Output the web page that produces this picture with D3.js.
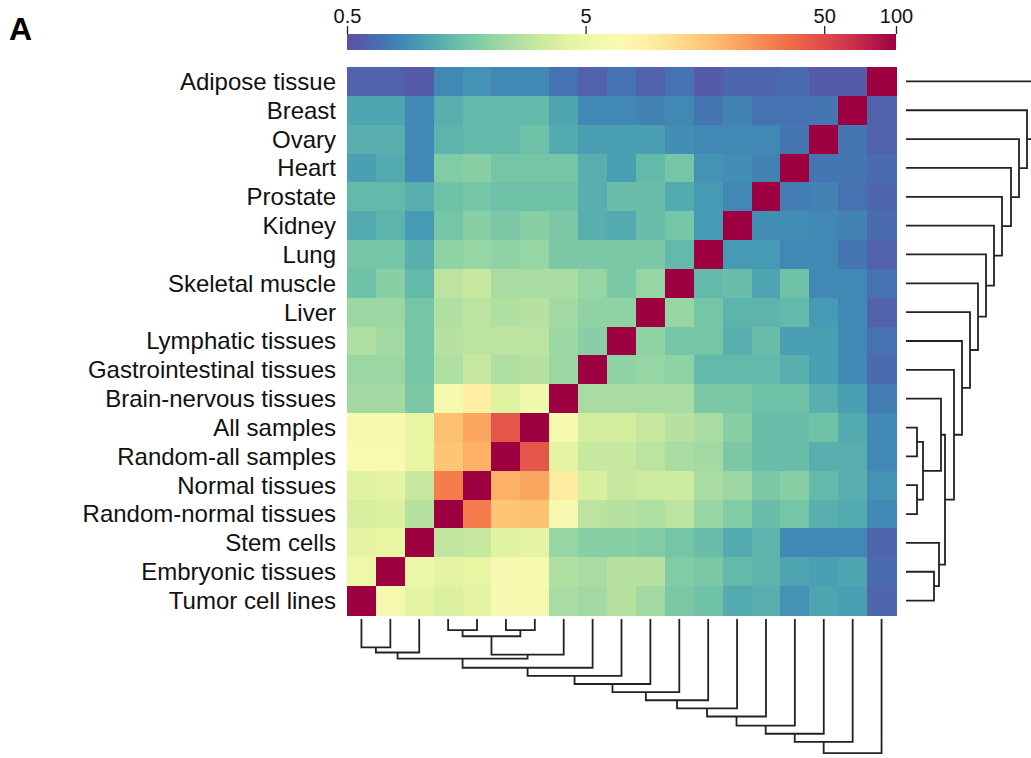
<!DOCTYPE html>
<html>
<head>
<meta charset="utf-8">
<script src="https://cdn.jsdelivr.net/npm/d3@7"></script>
<style>
  body { margin: 0; background: #fff; }
  svg { display: block; font-family: "Liberation Sans", Arial, Helvetica, sans-serif; }
</style>
</head>
<body>
<div id="chart"></div>
<script>
// row order, top to bottom (columns are the same tissues in reverse order)
const rowLabels = [
  "Adipose tissue", "Breast", "Ovary", "Heart", "Prostate", "Kidney", "Lung",
  "Skeletal muscle", "Liver", "Lymphatic tissues", "Gastrointestinal tissues",
  "Brain-nervous tissues", "All samples", "Random-all samples", "Normal tissues",
  "Random-normal tissues", "Stem cells", "Embryonic tissues", "Tumor cell lines"
];

// values[row][col], col 0 = Tumor cell lines ... col 18 = Adipose tissue
const values = [
  [0.59, 0.59, 0.56, 0.85, 0.94, 0.85, 0.85, 0.69, 0.59, 0.69, 0.59, 0.69, 0.56, 0.62, 0.62, 0.65, 0.56, 0.56, 100],
  [1.1, 1.1, 0.85, 1.23, 1.37, 1.37, 1.37, 1.1, 0.85, 0.85, 0.81, 0.85, 0.72, 0.81, 0.69, 0.69, 0.72, 100, 0.59],
  [1.23, 1.23, 0.85, 1.3, 1.37, 1.37, 1.52, 1.17, 1.05, 1.05, 1.05, 0.9, 0.85, 0.85, 0.85, 0.72, 100, 0.72, 0.59],
  [1.05, 1.17, 0.85, 1.78, 1.88, 1.6, 1.6, 1.6, 1.23, 1.05, 1.37, 1.6, 0.94, 0.9, 0.81, 100, 0.72, 0.72, 0.65],
  [1.37, 1.37, 1.23, 1.52, 1.6, 1.52, 1.52, 1.52, 1.23, 1.44, 1.44, 1.17, 1.0, 0.85, 100, 0.76, 0.81, 0.69, 0.62],
  [1.17, 1.3, 1.0, 1.6, 1.88, 1.69, 1.88, 1.69, 1.23, 1.17, 1.44, 1.6, 1.0, 100, 0.9, 0.9, 0.85, 0.81, 0.65],
  [1.6, 1.6, 1.23, 1.98, 2.09, 1.98, 2.09, 1.69, 1.69, 1.69, 1.69, 1.37, 100, 1.0, 1.0, 0.85, 0.85, 0.72, 0.59],
  [1.52, 1.88, 1.37, 2.87, 3.19, 2.45, 2.45, 2.45, 2.09, 1.69, 2.09, 100, 1.37, 1.44, 1.1, 1.52, 0.85, 0.85, 0.69],
  [2.2, 2.2, 1.6, 2.58, 2.87, 2.58, 2.72, 2.32, 1.98, 1.98, 100, 2.09, 1.6, 1.3, 1.3, 1.37, 1.0, 0.85, 0.59],
  [2.58, 2.32, 1.6, 2.72, 2.87, 2.87, 2.87, 2.2, 1.88, 100, 1.98, 1.6, 1.6, 1.23, 1.44, 1.05, 1.05, 0.85, 0.69],
  [2.2, 2.2, 1.6, 2.58, 3.19, 2.58, 2.72, 2.2, 100, 1.98, 2.09, 1.98, 1.37, 1.37, 1.37, 1.23, 1.05, 0.85, 0.65],
  [2.32, 2.32, 1.69, 5.7, 9.2, 4.16, 5.4, 100, 2.45, 2.45, 2.45, 2.45, 1.69, 1.69, 1.52, 1.52, 1.23, 1.05, 0.76],
  [6.0, 6.0, 4.63, 16.5, 21.5, 45, 100, 5.7, 3.55, 3.55, 3.19, 2.72, 2.45, 1.88, 1.44, 1.44, 1.52, 1.17, 0.85],
  [6.7, 6.7, 4.63, 15.7, 19.3, 100, 45, 4.39, 3.19, 3.19, 2.87, 2.45, 2.32, 1.69, 1.44, 1.44, 1.23, 1.23, 0.85],
  [4.16, 4.39, 3.19, 31, 100, 19.3, 21.5, 9.7, 3.74, 3.19, 3.37, 3.37, 2.45, 2.2, 1.69, 1.88, 1.37, 1.23, 0.94],
  [3.74, 3.95, 2.72, 100, 31, 15.7, 16.5, 6.4, 2.87, 2.72, 2.58, 2.87, 2.09, 1.78, 1.44, 1.6, 1.23, 1.17, 0.85],
  [4.39, 4.63, 100, 3.03, 3.19, 4.16, 4.39, 2.09, 1.88, 1.88, 1.78, 1.6, 1.44, 1.17, 1.3, 0.85, 0.85, 0.85, 0.62],
  [5.1, 100, 4.88, 4.39, 4.63, 6.4, 6.0, 2.58, 2.45, 2.72, 2.72, 1.78, 1.69, 1.37, 1.3, 1.1, 1.05, 1.1, 0.65],
  [100, 5.7, 4.39, 3.95, 4.39, 6.4, 5.7, 2.45, 2.32, 2.72, 2.32, 1.69, 1.52, 1.17, 1.23, 0.94, 1.1, 1.05, 0.62]
];

const colorTicks = [0.5, 5, 50, 100];

// clustering: [left, right, height]; numbers are row indices, "m<k>" is merge k
const merges = [
  [12, 13, 11], [14, 15, 11], ["m0", "m1", 17], [17, 18, 28],
  [11, "m2", 35], [16, "m3", 33], ["m4", "m5", 39], [10, "m6", 48],
  [9, "m7", 56], [8, "m8", 64], [7, "m9", 72], [6, "m10", 80],
  [5, "m11", 88], [4, "m12", 96], [3, "m13", 105], [2, "m14", 113],
  [1, "m15", 121], [0, "m16", 132]
];

const width = 1031, height = 758;
const heat = { left: 347, right: 896, top: 67, bottom: 615 };

const svg = d3.select("#chart").append("svg")
  .attr("width", width)
  .attr("height", height);

svg.append("rect").attr("width", width).attr("height", height).attr("fill", "#fff");

const n = rowLabels.length;
const y = d3.scaleBand().domain(d3.range(n)).range([heat.top, heat.bottom]);
const x = d3.scaleBand().domain(d3.range(n)).range([heat.left, heat.right]);
const color = d3.scaleSequentialLog(t => d3.interpolateSpectral(1 - t)).domain([0.5, 100]);

// heatmap cells
const cells = [];
values.forEach((row, r) => row.forEach((v, c) => cells.push({ r, c, v })));

svg.append("g").selectAll("rect").data(cells).enter().append("rect")
  .attr("x", d => x(d.c))
  .attr("y", d => y(d.r))
  .attr("width", x.bandwidth() + 0.6)
  .attr("height", y.bandwidth() + 0.6)
  .attr("fill", d => color(d.v))
  .attr("shape-rendering", "crispEdges");

// row labels
svg.append("g").selectAll("text").data(rowLabels).enter().append("text")
  .attr("x", heat.left - 11)
  .attr("y", (d, i) => y(i) + y.bandwidth() / 2)
  .attr("dy", "0.35em")
  .attr("text-anchor", "end")
  .attr("font-size", 24)
  .attr("fill", "#111")
  .text(d => d);

// colour bar
const cb = { top: 34, height: 16 };
const cbScale = d3.scaleLog().domain([0.5, 100]).range([heat.left, heat.right]);
const grad = svg.append("defs").append("linearGradient").attr("id", "cbgrad");
d3.range(0, 1.0001, 0.02).forEach(t => {
  grad.append("stop").attr("offset", t).attr("stop-color", d3.interpolateSpectral(1 - t));
});
svg.append("rect")
  .attr("x", heat.left)
  .attr("y", cb.top)
  .attr("width", heat.right - heat.left)
  .attr("height", cb.height)
  .attr("fill", "url(#cbgrad)");

const cbAxis = svg.append("g")
  .attr("transform", `translate(0,${cb.top})`)
  .call(d3.axisTop(cbScale).tickValues(colorTicks).tickFormat(d => d).tickSize(8).tickPadding(3));
cbAxis.select(".domain").remove();
cbAxis.selectAll("line").attr("stroke", "#222").attr("stroke-width", 1.3);
cbAxis.selectAll("text").attr("font-size", 20).attr("fill", "#111")
  .attr("font-family", "Liberation Sans, Arial, sans-serif");

// panel letter
svg.append("text")
  .attr("x", 9)
  .attr("y", 40)
  .attr("font-size", 32)
  .attr("font-weight", "bold")
  .attr("fill", "#000")
  .text("A");

// dendrograms
function buildTree(leafPos) {
  const nodes = [];
  const get = k => typeof k === "number" ? { pos: leafPos(k), h: 0 } : nodes[+k.slice(1)];
  const links = [];
  merges.forEach(([a, b, h]) => {
    const na = get(a), nb = get(b);
    links.push({ a: na, b: nb, h });
    nodes.push({ pos: (na.pos + nb.pos) / 2, h });
  });
  return links;
}

const dendroLine = d3.line();

const rightH = d3.scaleLinear().domain([0, 130]).range([906, 1036]);
const rightLinks = buildTree(i => y(i) + y.bandwidth() / 2);
svg.append("g").selectAll("path").data(rightLinks).enter().append("path")
  .attr("d", d => dendroLine([
    [rightH(d.a.h), d.a.pos], [rightH(d.h), d.a.pos],
    [rightH(d.h), d.b.pos], [rightH(d.b.h), d.b.pos]
  ]))
  .attr("fill", "none")
  .attr("stroke", "#222")
  .attr("stroke-width", 1.8);

const bottomH = d3.scaleLinear().domain([0, 130]).range([619, 751]);
const bottomLinks = buildTree(i => x(n - 1 - i) + x.bandwidth() / 2);
svg.append("g").selectAll("path").data(bottomLinks).enter().append("path")
  .attr("d", d => dendroLine([
    [d.a.pos, bottomH(d.a.h)], [d.a.pos, bottomH(d.h)],
    [d.b.pos, bottomH(d.h)], [d.b.pos, bottomH(d.b.h)]
  ]))
  .attr("fill", "none")
  .attr("stroke", "#222")
  .attr("stroke-width", 1.8);
</script>
</body>
</html>
